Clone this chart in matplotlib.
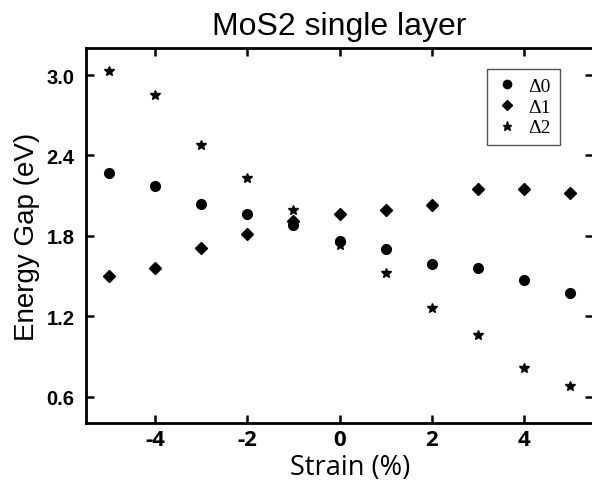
import matplotlib
matplotlib.use("Agg")
import matplotlib.pyplot as plt

strain = [-5, -4, -3, -2, -1, 0, 1, 2, 3, 4, 5]
delta0 = [2.27, 2.17, 2.04, 1.96, 1.88, 1.76, 1.70, 1.59, 1.56, 1.47, 1.37]
delta1 = [1.50, 1.56, 1.71, 1.81, 1.91, 1.96, 1.99, 2.03, 2.15, 2.15, 2.12]
delta2 = [3.03, 2.85, 2.48, 2.23, 1.99, 1.73, 1.52, 1.26, 1.06, 0.81, 0.68]
labels = ["\u03940", "\u03941", "\u03942"]
xticks = [-4, -2, 0, 2, 4]
yticks = [0.6, 1.2, 1.8, 2.4, 3.0]

W, H = 592, 481
fig = plt.figure(figsize=(W / 100, H / 100), dpi=100)
left, right, top, bottom = 85.7, 593.4, 49.3, 424.3
ax = fig.add_axes([left / W, 1 - bottom / H, (right - left) / W, (bottom - top) / H])

ax.plot(strain, delta0, linestyle="none", marker="o", ms=7, color="black", label=labels[0])
ax.plot(strain, delta1, linestyle="none", marker="D", ms=6.3, color="black", label=labels[1])
ax.plot(strain, delta2, linestyle="none", marker="*", ms=7.8, color="black", label=labels[2])

ax.set_xlim(-5.5, 5.5)
ax.set_ylim(0.4, 3.2)
ax.set_xticks(xticks)
ax.set_yticks(yticks)
ax.set_xticklabels([f"{v:d}" for v in xticks], fontfamily="Open Sans", fontweight="bold", fontsize=16)
ax.set_yticklabels([f"{v:.1f}" for v in yticks], fontfamily="Liberation Sans", fontweight="bold", fontsize=14.5)
ax.tick_params(direction="in", length=6, width=1.8, top=True, right=True)
ax.tick_params(axis="y", pad=8)
ax.tick_params(axis="x", pad=4)
for s in ax.spines.values():
    s.set_linewidth(2)

ax.set_title("MoS2 single layer", fontfamily="Liberation Sans", fontsize=23, pad=10)
ax.set_xlabel("Strain (%)", fontfamily="Open Sans", fontsize=19.5)
ax.xaxis.set_label_coords(0.52, -0.078)
ax.set_ylabel("Energy Gap (eV)", fontfamily="Liberation Sans", fontsize=20)
ax.yaxis.set_label_coords(-0.09, 0.5)

leg = ax.legend(loc="upper left", bbox_to_anchor=(0.790, 0.945), borderaxespad=0,
                prop={"family": "Liberation Serif", "size": 14}, frameon=True, fancybox=False,
                edgecolor="#555555", framealpha=1, handlelength=1.2, handletextpad=0.5,
                labelspacing=0.15, borderpad=0.45, markerscale=0.85)
leg.get_frame().set_linewidth(1)

fig.savefig("out.png", dpi=100)
